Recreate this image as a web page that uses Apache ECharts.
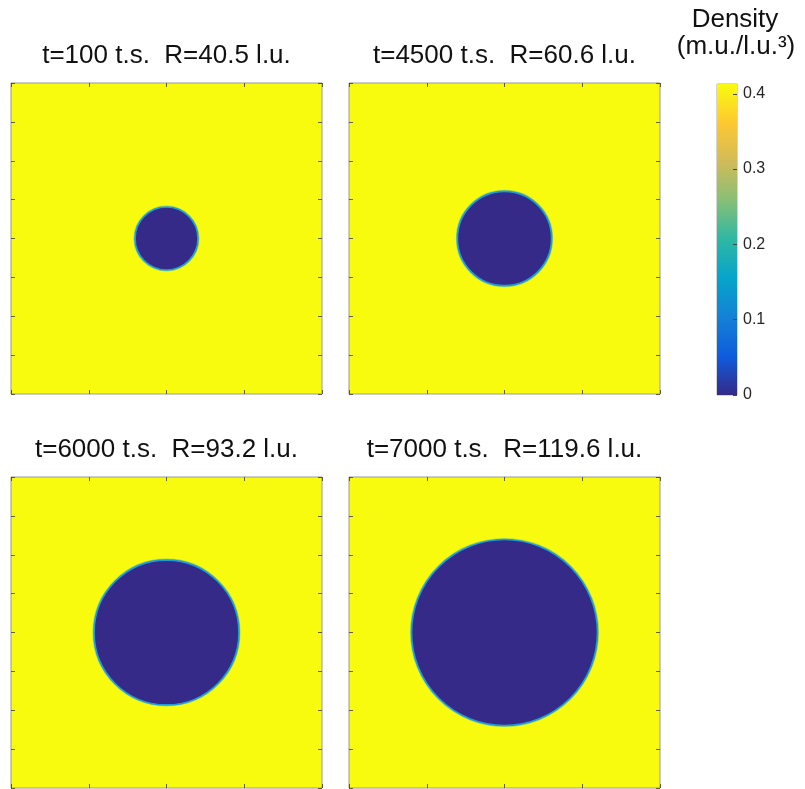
<!DOCTYPE html>
<html>
<head>
<meta charset="utf-8">
<script src="https://cdn.jsdelivr.net/npm/echarts@6/dist/echarts.min.js"></script>
<style>
  html, body { margin: 0; padding: 0; background: #fff; }
  #chart { width: 805px; height: 789px; }
</style>
</head>
<body>
<div id="chart"></div>
<script>
// Bubble growth snapshots: time step and bubble radius per panel
const timeSteps = [100, 4500, 6000, 7000];
const radii = [40.5, 60.6, 93.2, 119.6];
const centerX = [200, 200, 200, 200];
const centerY = [200, 200, 200, 200];
const domainMin = 0;
const domainMax = 400;

// Density colour scale
const densityMin = 0;
const densityMax = 0.413;
const densityTicks = [0, 0.1, 0.2, 0.3, 0.4];
const liquidDensity = 0.413;
const vapourDensity = 0;

// Parula colour stops (offset, colour)
const parulaStops = [
  [0.0, '#352a87'], [0.125, '#0f5cdd'], [0.25, '#1481d6'],
  [0.375, '#06a4ca'], [0.5, '#2eb7a4'], [0.625, '#87bf77'],
  [0.75, '#d1bb59'], [0.875, '#fec832'], [1.0, '#f9fb0e']
];

function parula(v) {
  const f = Math.max(0, Math.min(1, (v - densityMin) / (densityMax - densityMin)));
  for (let i = 1; i < parulaStops.length; i++) {
    if (f <= parulaStops[i][0]) {
      const [o0, c0] = parulaStops[i - 1];
      const [o1, c1] = parulaStops[i];
      const t = (f - o0) / (o1 - o0);
      const a = parseInt(c0.slice(1), 16), b = parseInt(c1.slice(1), 16);
      const mix = (s) => Math.round(((a >> s) & 255) * (1 - t) + ((b >> s) & 255) * t);
      return 'rgb(' + mix(16) + ',' + mix(8) + ',' + mix(0) + ')';
    }
  }
  return parulaStops[parulaStops.length - 1][1];
}

const FONT = '"Liberation Sans", Arial, Helvetica, sans-serif';
const panelBoxes = [
  { left: 11, top: 83 }, { left: 349, top: 83 },
  { left: 11, top: 477 }, { left: 349, top: 477 }
];
const PANEL = 311;

const grids = [], xAxes = [], yAxes = [], series = [], graphics = [];
const makeTick = () => ({ show: true, inside: true, length: 4, lineStyle: { color: 'rgba(50,50,50,0.75)', width: 1 } });

panelBoxes.forEach((b, i) => {
  grids.push({
    left: b.left, top: b.top, width: PANEL, height: PANEL,
    show: true, backgroundColor: parula(liquidDensity),
    borderColor: '#9a9a9a', borderWidth: 1
  });
  ['bottom', 'top'].forEach(pos => xAxes.push({
    gridIndex: i, type: 'value', position: pos, min: domainMin, max: domainMax, interval: 100,
    axisLine: { show: false, onZero: false }, axisTick: makeTick(), axisLabel: { show: false }, splitLine: { show: false }
  }));
  ['left', 'right'].forEach(pos => yAxes.push({
    gridIndex: i, type: 'value', position: pos, min: domainMin, max: domainMax, interval: 50,
    axisLine: { show: false, onZero: false }, axisTick: makeTick(), axisLabel: { show: false }, splitLine: { show: false }
  }));
  series.push({
    type: 'custom', xAxisIndex: i * 2, yAxisIndex: i * 2,
    data: [[centerX[i], centerY[i], radii[i]]],
    renderItem: (params, api) => {
      const c = api.coord([api.value(0), api.value(1)]);
      const r = api.size([api.value(2), api.value(2)])[0];
      return {
        type: 'group',
        children: [
          { type: 'circle', shape: { cx: c[0], cy: c[1], r: r + 0.9 },
            style: { fill: null, stroke: 'rgba(110,195,120,0.6)', lineWidth: 1.3 } },
          { type: 'circle', shape: { cx: c[0], cy: c[1], r: r },
            style: { fill: parula(vapourDensity), stroke: '#1d9be0', lineWidth: 1.7 } }
        ]
      };
    },
    silent: true, animation: false, z: 1
  });
  graphics.push({
    type: 'text',
    x: b.left + PANEL / 2, y: b.top - 27,
    style: {
      text: 't=' + timeSteps[i] + ' t.s.  R=' + radii[i].toFixed(1) + ' l.u.',
      font: '26px ' + FONT, fill: '#111', align: 'center', verticalAlign: 'middle'
    }
  });
});

// Colour bar
const cbIndex = grids.length;
grids.push({ left: 717, top: 84, width: 20, height: 311, show: true, borderColor: '#aaaaaa', borderWidth: 1 });
xAxes.push({ gridIndex: cbIndex, type: 'value', min: 0, max: 1, show: false });
yAxes.push({
  gridIndex: cbIndex, type: 'value', position: 'right', min: densityMin, max: densityMax, z: 5,
  axisLine: { show: false, onZero: false },
  axisTick: { show: true, inside: true, length: 4, customValues: densityTicks, lineStyle: { color: '#444', width: 1 } },
  axisLabel: { show: true, customValues: densityTicks, margin: 6, fontSize: 16, fontFamily: FONT, color: '#262626' },
  splitLine: { show: false }
});
series.push({
  type: 'custom', xAxisIndex: xAxes.length - 1, yAxisIndex: yAxes.length - 1,
  data: [[0, 1, densityMin, densityMax]],
  renderItem: (params, api) => {
    const p0 = api.coord([api.value(0), api.value(2)]);
    const p1 = api.coord([api.value(1), api.value(3)]);
    return {
      type: 'rect',
      shape: { x: p0[0], y: p1[1], width: p1[0] - p0[0], height: p0[1] - p1[1] },
      style: {
        fill: new echarts.graphic.LinearGradient(0, 1, 0, 0,
          parulaStops.map(s => ({ offset: s[0], color: s[1] })))
      }
    };
  },
  silent: true, animation: false, z: 1
});

graphics.push({
  type: 'text', x: 735, y: 20,
  style: { text: 'Density', font: '26px ' + FONT, fill: '#111', align: 'center', verticalAlign: 'middle' }
});
graphics.push({
  type: 'text', x: 736, y: 47,
  style: { text: '(m.u./l.u.³)', font: '26px ' + FONT, fill: '#111', align: 'center', verticalAlign: 'middle' }
});

const chart = echarts.init(document.getElementById('chart'), null, { renderer: 'canvas' });
chart.setOption({
  animation: false,
  backgroundColor: '#ffffff',
  grid: grids, xAxis: xAxes, yAxis: yAxes, series: series,
  graphic: graphics
});
</script>
</body>
</html>
